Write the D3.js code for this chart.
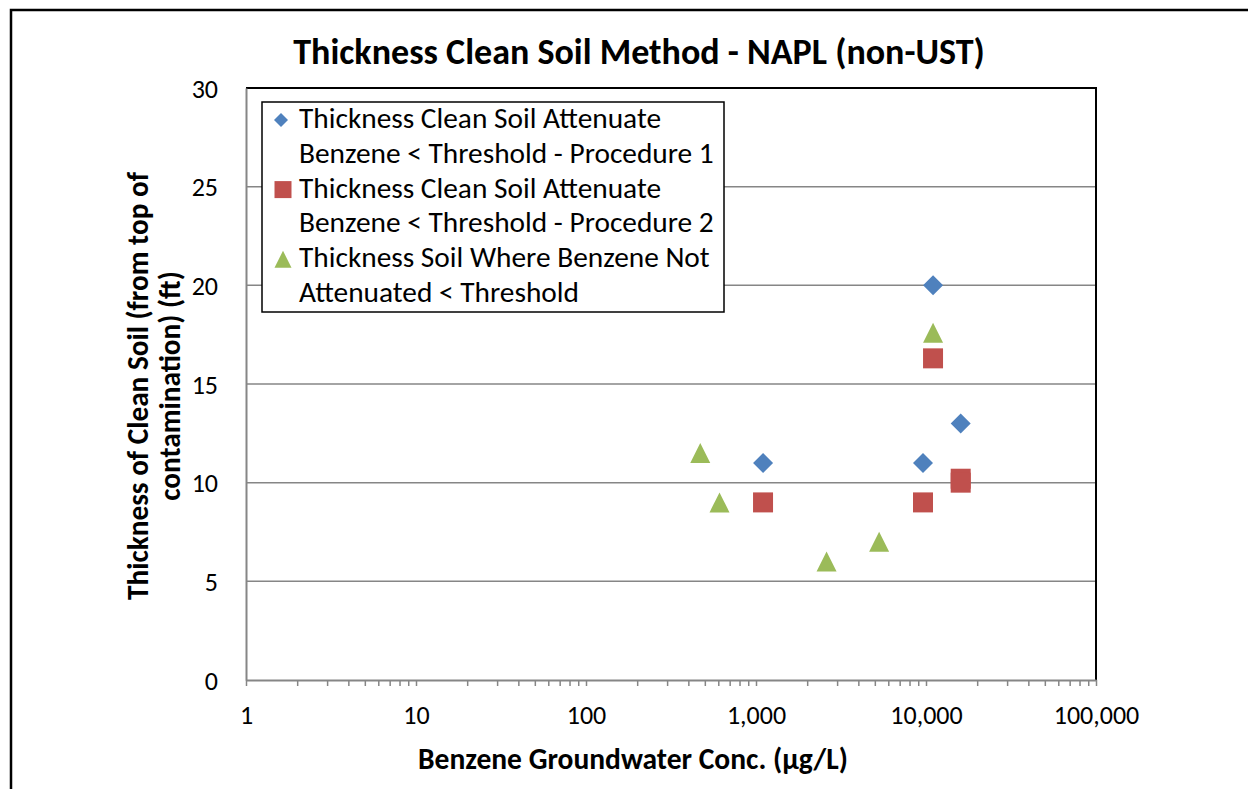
<!DOCTYPE html>
<html>
<head>
<meta charset="utf-8">
<script src="https://cdn.jsdelivr.net/npm/d3@7"></script>
<style>
  html, body { margin: 0; padding: 0; background: #fff; }
  svg { display: block; }
  text { font-family: Carlito, Lato, "Open Sans", sans-serif; fill: #000; }
</style>
</head>
<body>
<svg id="chart" width="1248" height="789"></svg>
<script>
// ---- data ----
const chartTitle = "Thickness Clean Soil Method - NAPL (non-UST)";
const xAxisTitle = "Benzene Groundwater Conc. (\u00b5g/L)";
const yAxisTitleLines = ["Thickness of Clean Soil (from top of", "contamination) (ft)"];
const xTickValues = [1, 10, 100, 1000, 10000, 100000];
const yTickValues = [0, 5, 10, 15, 20, 25, 30];

const seriesNames = [
  ["Thickness Clean Soil Attenuate", "Benzene < Threshold - Procedure 1"],
  ["Thickness Clean Soil Attenuate", "Benzene < Threshold - Procedure 2"],
  ["Thickness Soil Where Benzene Not", "Attenuated < Threshold"]
];
const procedure1X = [1100, 9600, 11000, 16000];
const procedure1Y = [11, 11, 20, 13];
const procedure2X = [1100, 9600, 11000, 16000, 16000];
const procedure2Y = [9, 9, 16.3, 10.2, 10];
const notAttenuatedX = [470, 610, 2600, 5300, 11000];
const notAttenuatedY = [11.5, 9, 6, 7, 17.6];

const seriesColors = ["#4F81BD", "#C0504D", "#9BBB59"];
const seriesShapes = ["diamond", "square", "triangle"];

// ---- layout ----
const svg = d3.select("#chart");
const plot = { left: 246, right: 1096, top: 88, bottom: 680 };

const x = d3.scaleLog().domain([1, 100000]).range([plot.left, plot.right]);
const y = d3.scaleLinear().domain([0, 30]).range([plot.bottom, plot.top]);

function fit(sel, w) {
  const l = sel.node().getComputedTextLength();
  const fs = parseFloat(sel.attr("font-size"));
  sel.attr("font-size", fs * w / l);
  return fs * w / l;
}

// marker path generator (Excel-like shapes centred in their box)
function markerPath(shape, s) {
  const h = s / 2;
  if (shape === "diamond") return `M0,${-h}L${h},0L0,${h}L${-h},0Z`;
  if (shape === "square") return `M${-h},${-h}H${h}V${h}H${-h}Z`;
  return `M0,${-h}L${h},${h}L${-h},${h}Z`;
}

// outer chart border
svg.append("path")
  .attr("d", "M11,789V10H1248")
  .attr("fill", "none").attr("stroke", "#000").attr("stroke-width", 2.5);

// gridlines
svg.append("g")
  .selectAll("line")
  .data(yTickValues.filter(v => v > 0 && v < 30))
  .join("line")
  .attr("x1", plot.left).attr("x2", plot.right)
  .attr("y1", d => y(d)).attr("y2", d => y(d))
  .attr("stroke", "#868686").attr("stroke-width", 1.5);

// plot border top & right
svg.append("path")
  .attr("d", `M${plot.left},${y(30)}H${plot.right}V${plot.bottom}`)
  .attr("fill", "none").attr("stroke", "#000").attr("stroke-width", 2);

// x axis (log) with minor ticks
const xMinor = [];
for (let e = 0; e < 5; e++) for (let m = 1; m <= 9; m++) xMinor.push(m * Math.pow(10, e));
xMinor.push(100000);
const xAxis = d3.axisBottom(x).tickValues(xMinor).tickSize(6).tickSizeOuter(0)
  .tickFormat(d => xTickValues.includes(d) ? d3.format(",")(d) : "");
const gx = svg.append("g").attr("transform", `translate(0,${plot.bottom})`).call(xAxis);
gx.select(".domain").attr("stroke", "#868686").attr("stroke-width", 2);
gx.selectAll(".tick line").attr("stroke", "#868686").attr("stroke-width", 1.5);
gx.selectAll(".tick text")
  .attr("font-size", 26).attr("y", 0).attr("dy", "1.7em")
  .style("font-family", "Carlito, Lato, sans-serif").attr("fill", "#000");

// y axis
const yAxis = d3.axisLeft(y).tickValues(yTickValues).tickSize(0).tickPadding(28);
const gy = svg.append("g").attr("transform", `translate(${plot.left},0)`).call(yAxis);
gy.select(".domain").attr("stroke", "#868686").attr("stroke-width", 2);
gy.selectAll(".tick text")
  .attr("font-size", 26).attr("dy", "0.35em")
  .style("font-family", "Carlito, Lato, sans-serif").attr("fill", "#000");

// title
const t = svg.append("text")
  .attr("x", 639).attr("y", 64).attr("text-anchor", "middle")
  .attr("font-weight", "bold").attr("font-size", 30).text(chartTitle);
fit(t, 692);

// x axis title
const xt = svg.append("text")
  .attr("x", 633).attr("y", 769).attr("text-anchor", "middle")
  .attr("font-weight", "bold").attr("font-size", 22).text(xAxisTitle);
fit(xt, 430);

// y axis title
const yCenter = 386;
const yBase = [148, 180];
let yfs = null;
yAxisTitleLines.forEach((line, i) => {
  const yt = svg.append("text")
    .attr("transform", `translate(${yBase[i]},${yCenter}) rotate(-90)`)
    .attr("text-anchor", "middle")
    .attr("font-weight", "bold").attr("font-size", 22).text(line);
  if (i === 0) yfs = fit(yt, 428); else yt.attr("font-size", yfs);
});

// series data
const series = [
  procedure1X.map((v, i) => ({ x: v, y: procedure1Y[i] })),
  procedure2X.map((v, i) => ({ x: v, y: procedure2Y[i] })),
  notAttenuatedX.map((v, i) => ({ x: v, y: notAttenuatedY[i] }))
];
const markerSizes = [20, 20, 20];

series.forEach((pts, si) => {
  svg.append("g").selectAll("path")
    .data(pts).join("path")
    .attr("transform", d => `translate(${x(d.x)},${y(d.y)})`)
    .attr("d", markerPath(seriesShapes[si], markerSizes[si]))
    .attr("fill", seriesColors[si]);
});

// legend
const legend = svg.append("g");
legend.append("rect")
  .attr("x", 262).attr("y", 102).attr("width", 462).attr("height", 210)
  .attr("fill", "#fff").attr("stroke", "#000").attr("stroke-width", 1.5);
const legendLineGap = 34.5;
const legendEntryGap = 69.6;
const probe = legend.append("text").attr("font-size", 24).text(seriesNames[0][1]);
const lfs = fit(probe, 415);
probe.remove();
const legendMarkerSizes = [14, 17, 17];
seriesNames.forEach((lines, i) => {
  const by = 128 + i * legendEntryGap;
  legend.append("path")
    .attr("transform", `translate(${i === 0 ? 281 : 283},${by - 8})`)
    .attr("d", markerPath(seriesShapes[i], legendMarkerSizes[i]))
    .attr("fill", seriesColors[i]);
  lines.forEach((ln, j) => {
    legend.append("text")
      .attr("x", 299).attr("y", by + j * legendLineGap)
      .attr("font-size", lfs).text(ln);
  });
});
</script>
</body>
</html>
